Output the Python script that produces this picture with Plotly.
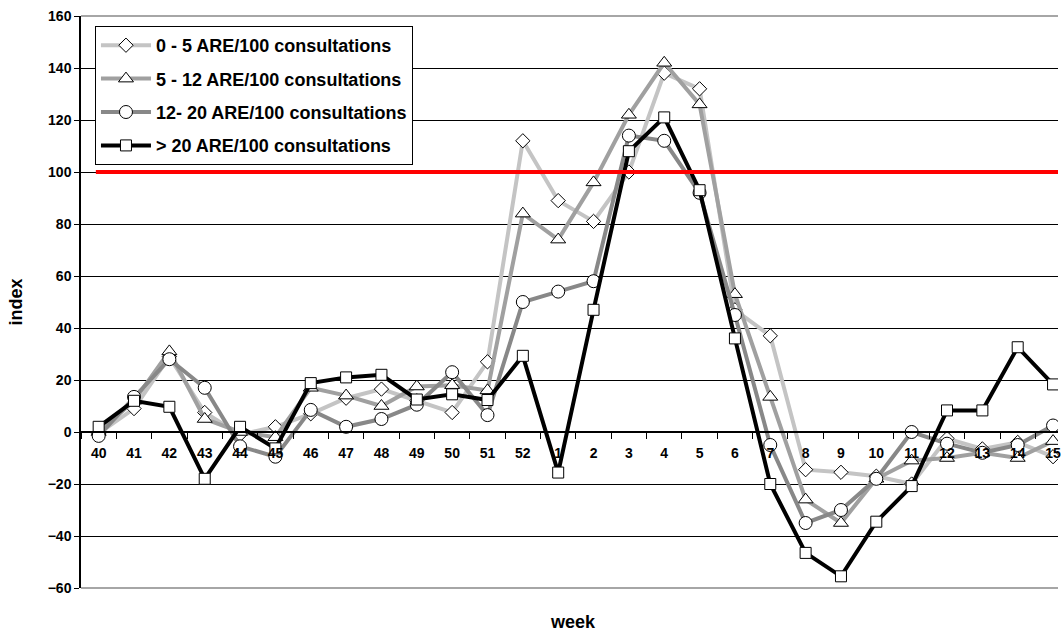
import plotly.graph_objects as go

weeks = ["40", "41", "42", "43", "44", "45", "46", "47", "48", "49", "50", "51", "52",
         "1", "2", "3", "4", "5", "6", "7", "8", "9", "10", "11", "12", "13", "14", "15"]

s_0_5 = [-0.5, 9, 29, 7.5, -1, 2, 7, 13, 16.5, 12, 7.5, 27, 112,
         89, 81, 100, 138, 132, 47, 37, -14.5, -15.5, -17, -20, -2.5, -6.5, -4, -9.5]
s_5_12 = [0, 12, 31, 5, 0, -2, 17, 14, 10, 17.5, 18, 16, 84,
          74, 96, 122, 142, 126, 53, 13.5, -26, -35, -18, -11, -10, -8, -10, -3.5]
s_12_20 = [-1.5, 13.5, 28, 17, -5.5, -9.5, 8.5, 2, 5, 10.5, 23, 6.5, 50,
           54, 58, 114, 112, 92, 45, -5, -35, -30, -18, 0, -4.5, -8, -5, 2.5]
s_gt20 = [2, 12, 9.7, -18, 2, -6.3, 18.8, 21, 22, 12.5, 14.5, 12.3, 29.3,
          -15.6, 47, 108, 121, 93, 36, -20, -46.5, -55.5, -34.5, -20.8, 8.3, 8.3, 32.6, 18.3]

names = ["0 - 5 ARE/100 consultations", "5 - 12 ARE/100 consultations",
         "12- 20 ARE/100 consultations", "> 20 ARE/100 consultations"]
threshold = 100

series = [s_0_5, s_5_12, s_12_20, s_gt20]
colors = ["#C4C4C4", "#A0A0A0", "#888888", "#000000"]
symbols = ["diamond", "triangle-up", "circle", "square"]
sizes = [11, 13, 13, 11]

fig = go.Figure()
for i, (vals, name) in enumerate(zip(series, names)):
    fig.add_trace(go.Scatter(
        x=weeks, y=vals, name=name, mode="lines+markers",
        legendgroup=f"g{i}",
        line=dict(color=colors[i], width=4),
        marker=dict(symbol=symbols[i], size=sizes[i], color="white",
                    line=dict(color="black", width=1)),
    ))

fig.add_shape(type="line", xref="x", yref="y", x0=-0.08, x1=28, y0=threshold, y1=threshold,
              line=dict(color="#FF0000", width=4), layer="above")
# plot-area top and bottom border (grey)
for yy in (0, 1):
    fig.add_shape(type="line", xref="paper", yref="paper", x0=0, x1=1, y0=yy, y1=yy,
                  line=dict(color="#888888", width=1.5))

y0_paper = (588 - 432) / 572.0

fig.update_layout(
    width=1061, height=632,
    margin=dict(l=81, r=0, t=16, b=44),
    paper_bgcolor="white", plot_bgcolor="white",
    font=dict(family="Liberation Sans, Arial", color="black"),
    showlegend=True,
    legend=dict(x=0.0143, y=0.9825, xanchor="left", yanchor="top",
                bgcolor="white", bordercolor="black", borderwidth=1,
                font=dict(size=18, weight="bold"), tracegroupgap=7,
                itemwidth=50, entrywidth=284, traceorder="grouped"),
    xaxis=dict(type="category", categoryorder="array", categoryarray=weeks,
               range=[-0.5, 27.14], anchor="free", position=y0_paper,
               showgrid=False, zeroline=False, showline=True, linecolor="black", linewidth=1.5,
               ticks="outside", ticklen=6, tickcolor="black", tickson="boundaries",
               ticklabelstandoff=8,
               tickfont=dict(size=14, weight="bold")),
    yaxis=dict(range=[-60, 160], dtick=20, tick0=0, showgrid=True, gridcolor="black", gridwidth=1.2,
               zeroline=False, showline=True, linecolor="black", linewidth=1.5,
               ticks="outside", ticklen=5, tickcolor="black",
               tickfont=dict(size=14, weight="bold"),
               title=dict(text="index", font=dict(size=18, weight="bold"), standoff=20)),
    annotations=[dict(text="week", xref="paper", yref="paper", x=(575 - 81) / 980.0, y=-0.06,
                      xanchor="center", yanchor="middle", showarrow=False,
                      font=dict(size=18, weight="bold"))],
)

fig.write_html("out.html")
